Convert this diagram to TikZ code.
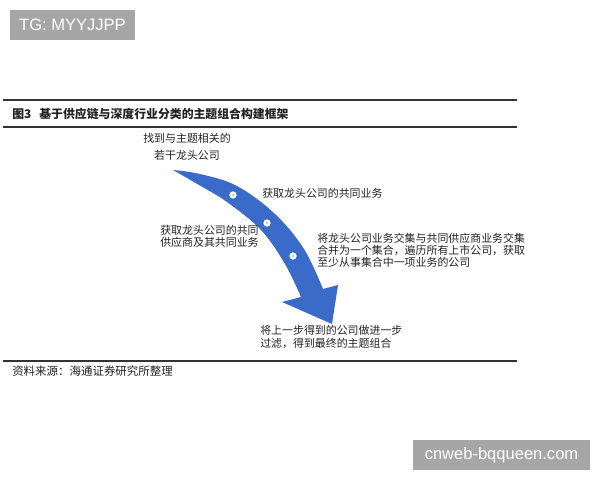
\documentclass[tikz,border=0pt]{standalone}
\usepackage{fontspec}
\setmainfont{Liberation Sans}
\newfontfamily\cjk{Noto Sans CJK SC}
\definecolor{arrowblue}{HTML}{3A6BC8}
\definecolor{wmgray}{HTML}{A6A6A6}
\definecolor{ink}{HTML}{222222}
\definecolor{rule}{HTML}{333333}
\begin{document}
\begin{tikzpicture}[x=0.75pt,y=-0.75pt,
  txt/.style={inner sep=0pt, text=ink, font=\cjk\fontsize{8.2}{9}\selectfont, align=left},
  wm/.style={fill=wmgray, text=white, inner sep=0pt, font=\fontsize{12.4}{14}\selectfont},
  hrule/.style={draw=rule, line width=1.3pt},
  dot/.style={circle, fill=white, inner sep=0pt, minimum size=5.5pt},
  dotc/.style={circle, fill=arrowblue!45, inner sep=0pt, minimum size=1.8pt}]
\useasboundingbox (0,0) rectangle (600,480);
\fill[white] (0,0) rectangle (600,480);
% watermarks
\node[wm, minimum width=93.75pt, minimum height=22.5pt] (wmtop) at (72.5,25) {TG: MYYJJPP};
\node[wm, minimum width=132.75pt, minimum height=22.5pt] (wmbot) at (501.5,455) {cnweb-bqqueen.com};
% rules
\draw[hrule] (3,100) -- (517,100);
\draw[draw=rule, line width=0.8pt] (3,127) -- (517,127);
\draw[hrule] (3,361) -- (517,361);
% title
\node[inner sep=0pt, anchor=west, text=ink, font=\cjk\bfseries\fontsize{8.9}{10}\selectfont] (title) at (12,113.5) {图3\hspace{6pt}基于供应链与深度行业分类的主题组合构建框架};
% source
\node[txt, anchor=west, font=\cjk\fontsize{8.6}{10}\selectfont] (src) at (12,371) {资料来源：海通证券研究所整理};
% arrow
\fill[arrowblue]
  plot[smooth, tension=0.6] coordinates {(173,170) (200,174) (237,186) (275,214) (304,249) (323,289)}
  -- (338,285) -- (332,324) -- (282,302) --
  plot[smooth, tension=0.6] coordinates {(301,297) (285,264) (261,230) (227,202) (199,185) (173,170)}
  -- cycle;
\foreach \p/\n in {{(233,195)}/d1, {(267,223)}/d2, {(293,256)}/d3} {
  \node[dot] (\n) at \p {};
  \node[dotc] at \p {};
}
% labels
\node[txt, align=center, font=\cjk\fontsize{8.2}{12.75}\selectfont] (t1) at (187,146.5) {找到与主题相关的\\若干龙头公司};
\node[txt, anchor=west] (t2) at (262,193) {获取龙头公司的共同业务};
\node[txt, anchor=west] (t3) at (160,236) {获取龙头公司的共同\\供应商及其共同业务};
\node[txt, anchor=west] (t4) at (317,250) {将龙头公司业务交集与共同供应商业务交集\\合并为一个集合，遍历所有上市公司，获取\\至少从事集合中一项业务的公司};
\node[txt, anchor=west, font=\cjk\fontsize{8.2}{9.75}\selectfont] (t5) at (260,336.5) {将上一步得到的公司做进一步\\过滤，得到最终的主题组合};
\end{tikzpicture}
\end{document}
